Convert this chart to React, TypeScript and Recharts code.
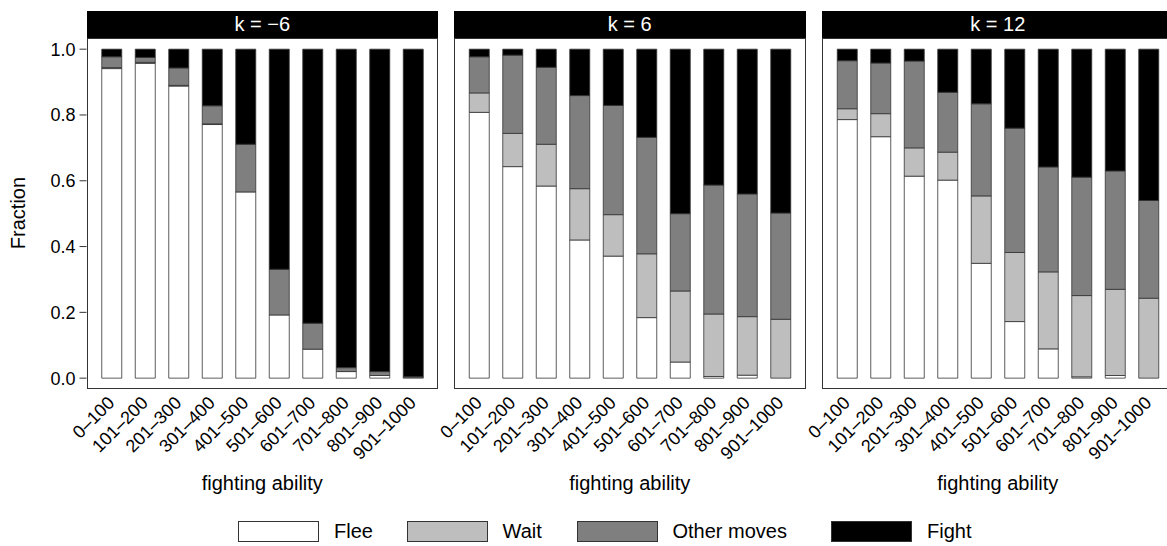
import React from 'react';
import { BarChart, Bar, XAxis, YAxis } from 'recharts';

// fighting ability bins
const CATEGORIES = ['0–100', '101–200', '201–300', '301–400', '401–500', '501–600', '601–700', '701–800', '801–900', '901–1000'];
const Y_TICKS = [0, 0.2, 0.4, 0.6, 0.8, 1.0];

// k = -6
const fleeA = [0.941, 0.957, 0.888, 0.771, 0.566, 0.192, 0.088, 0.02, 0.008, 0];
const waitA = [0.003, 0.003, 0.002, 0.002, 0, 0, 0, 0, 0, 0];
const otherA = [0.033, 0.015, 0.053, 0.055, 0.145, 0.139, 0.079, 0.012, 0.012, 0.004];
const fightA = [0.023, 0.025, 0.057, 0.172, 0.289, 0.669, 0.833, 0.968, 0.98, 0.996];

// k = 6
const fleeB = [0.808, 0.643, 0.584, 0.42, 0.371, 0.184, 0.049, 0.005, 0.009, 0];
const waitB = [0.059, 0.101, 0.127, 0.156, 0.126, 0.194, 0.216, 0.19, 0.178, 0.179];
const otherB = [0.11, 0.238, 0.234, 0.283, 0.332, 0.354, 0.235, 0.392, 0.373, 0.323];
const fightB = [0.023, 0.018, 0.055, 0.141, 0.171, 0.268, 0.5, 0.413, 0.44, 0.498];

// k = 12
const fleeC = [0.786, 0.734, 0.614, 0.602, 0.349, 0.172, 0.089, 0.004, 0.008, 0];
const waitC = [0.033, 0.07, 0.086, 0.085, 0.205, 0.21, 0.234, 0.247, 0.262, 0.243];
const otherC = [0.146, 0.154, 0.264, 0.182, 0.28, 0.378, 0.319, 0.36, 0.36, 0.297];
const fightC = [0.035, 0.042, 0.036, 0.131, 0.166, 0.24, 0.358, 0.389, 0.37, 0.46];

const SERIES = [
  { key: 'flee', name: 'Flee', color: '#FFFFFF' },
  { key: 'wait', name: 'Wait', color: '#BEBEBE' },
  { key: 'other', name: 'Other moves', color: '#7F7F7F' },
  { key: 'fight', name: 'Fight', color: '#000000' },
];

const FONT = '"Liberation Sans", Arial, Helvetica, sans-serif';

const build = (flee: number[], wait: number[], other: number[], fight: number[]) =>
  CATEGORIES.map((cat, i) => ({ cat, flee: flee[i], wait: wait[i], other: other[i], fight: fight[i] }));

const PANELS = [
  { label: 'k = −6', data: build(fleeA, waitA, otherA, fightA) },
  { label: 'k = 6', data: build(fleeB, waitB, otherB, fightB) },
  { label: 'k = 12', data: build(fleeC, waitC, otherC, fightC) },
];

const PLOT_LEFTS = [86.5, 454, 822];
const PLOT_W = 351.5;
const PLOT_TOP = 38;
const PLOT_H = 351;
const Y_AXIS_W = 86.5;
const SIDE = 8;
const LEFT_PAD = 50; // room for rotated tick labels on panels without a y axis
const SVG_H = 500;
const LEGEND_LEFTS = [238, 406.5, 576.5, 831];

const XTick = (props: any) => {
  const { x, y, payload } = props;
  return (
    <g transform={`translate(${x + 4},${y + 7})`}>
      <text textAnchor="end" transform="rotate(-45)" fontSize={18} fill="#000" fontFamily={FONT}>
        {payload.value}
      </text>
    </g>
  );
};

function Panel({ idx }: { idx: number }) {
  const p = PANELS[idx];
  const showY = idx === 0;
  const plotLeft = PLOT_LEFTS[idx];
  const leftSpace = showY ? Y_AXIS_W : LEFT_PAD;
  const chartLeft = plotLeft - leftSpace;
  const width = leftSpace + PLOT_W + SIDE;
  return (
    <>
      <div style={{ position: 'absolute', left: chartLeft, top: 0 }}>
        <BarChart
          width={width}
          height={SVG_H}
          data={p.data}
          margin={{ top: PLOT_TOP, right: SIDE, bottom: 0, left: showY ? 0 : LEFT_PAD }}
          barSize={20}
        >
          <XAxis
            dataKey="cat"
            type="category"
            height={SVG_H - PLOT_TOP - PLOT_H}
            padding={{ left: 8.25, right: 8.25 }}
            tickLine={false}
            axisLine={false}
            interval={0}
            tick={<XTick />}
            label={{ value: 'fighting ability', position: 'insideBottom', offset: 10, fontSize: 20, fill: '#000', fontFamily: FONT }}
          />
          <YAxis
            hide={!showY}
            width={Y_AXIS_W}
            domain={[-0.033, 1.034]}
            allowDataOverflow
            ticks={Y_TICKS}
            tickFormatter={(v: number) => v.toFixed(1)}
            tickSize={7}
            tickMargin={4}
            tickLine={{ stroke: '#333' }}
            axisLine={false}
            tick={{ fontSize: 18, fill: '#000', fontFamily: FONT }}
          />
          {SERIES.map((s) => (
            <Bar
              key={s.key}
              dataKey={s.key}
              name={s.name}
              stackId="a"
              fill={s.color}
              stroke="#333"
              strokeWidth={0.8}
              isAnimationActive={false}
            />
          ))}
        </BarChart>
      </div>
      <div
        style={{
          position: 'absolute', left: plotLeft, top: PLOT_TOP, width: PLOT_W, height: PLOT_H,
          border: '1px solid #333', boxSizing: 'border-box', pointerEvents: 'none',
        }}
      />
      <div
        style={{
          position: 'absolute', left: plotLeft, top: 11, width: PLOT_W, height: 27,
          background: '#000', color: '#fff', fontSize: 20, lineHeight: '27px', textAlign: 'center',
        }}
      >
        {p.label}
      </div>
    </>
  );
}

export default function App() {
  return (
    <div style={{ position: 'fixed', left: 0, top: 0, width: 1167, height: 546, overflow: 'hidden', background: '#fff', fontFamily: FONT }}>
      {PANELS.map((_, i) => (
        <Panel key={i} idx={i} />
      ))}
      <div
        style={{
          position: 'absolute', left: 8, top: 213, width: 20, height: 0,
          transform: 'rotate(-90deg)', display: 'flex', justifyContent: 'center', alignItems: 'center',
        }}
      >
        <span style={{ fontSize: 20, whiteSpace: 'nowrap', lineHeight: 0 }}>Fraction</span>
      </div>
      {SERIES.map((s, i) => (
        <div key={s.key} style={{ position: 'absolute', left: LEGEND_LEFTS[i], top: 521, height: 21, display: 'flex', alignItems: 'center' }}>
          <div style={{ width: 81, height: 21, background: s.color, border: '1px solid #333', boxSizing: 'border-box' }} />
          <span style={{ marginLeft: 15, fontSize: 20, whiteSpace: 'nowrap' }}>{s.name}</span>
        </div>
      ))}
    </div>
  );
}
